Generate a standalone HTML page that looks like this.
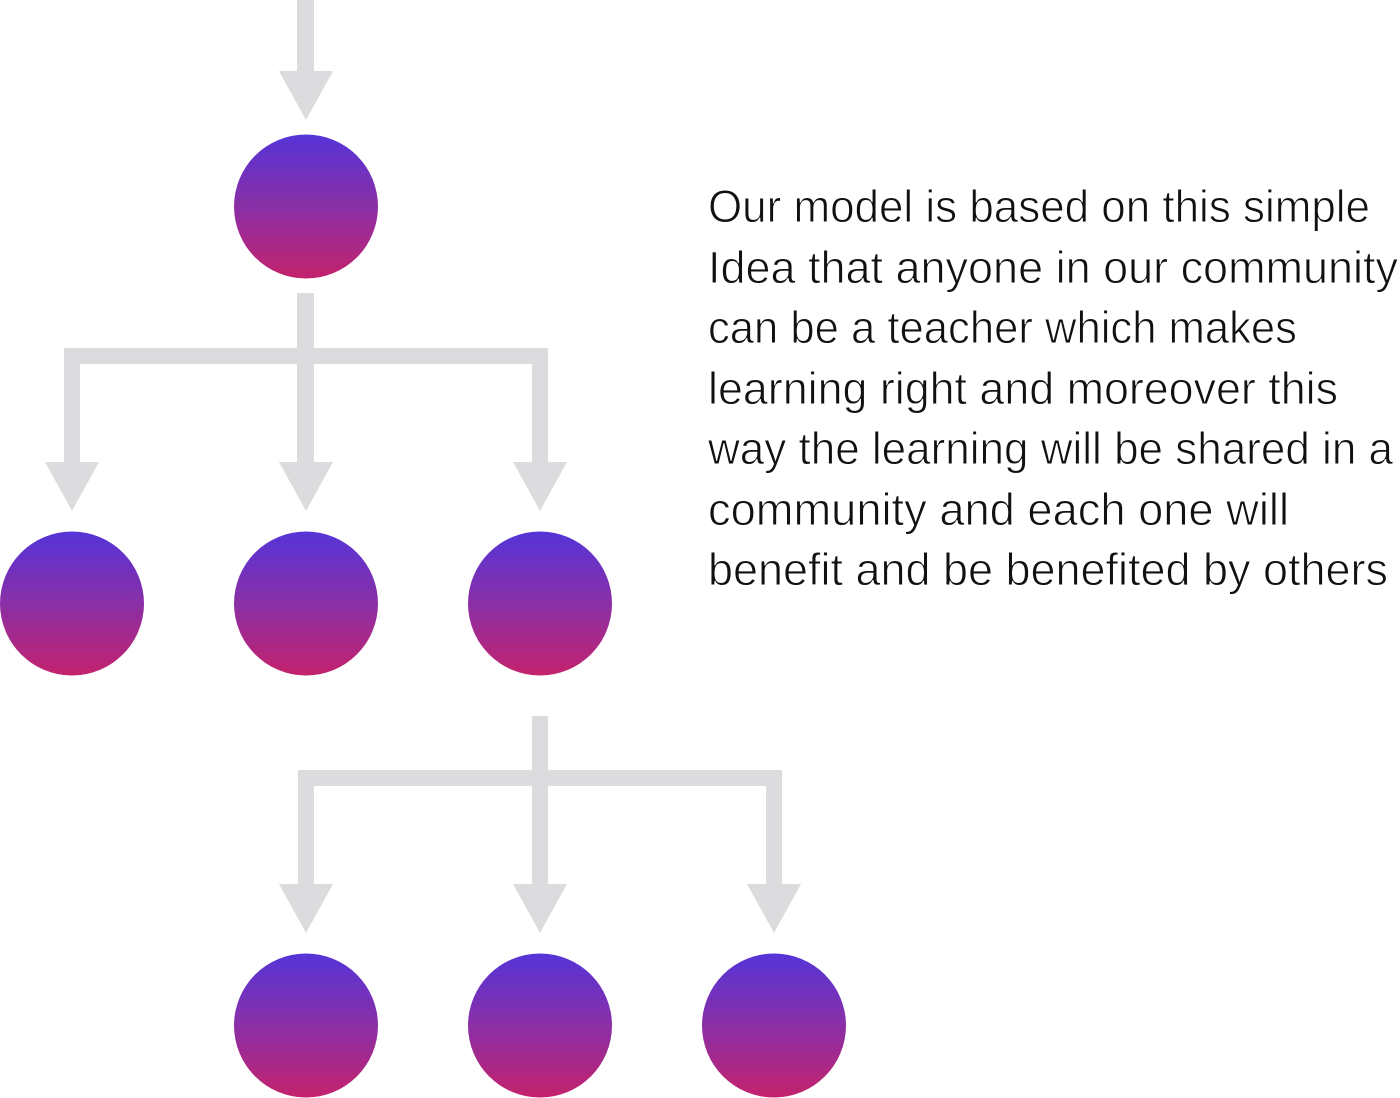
<!DOCTYPE html>
<html><head><meta charset="utf-8"><style>html,body{margin:0;padding:0;background:#fff}svg{display:block}</style></head>
<body>
<svg width="1400" height="1098" viewBox="0 0 1400 1098" xmlns="http://www.w3.org/2000/svg">
<defs>
<linearGradient id="g" x1="0" y1="0" x2="0" y2="1">
<stop offset="0" stop-color="#5534d8"/>
<stop offset="0.5" stop-color="#8a2fa6"/>
<stop offset="1" stop-color="#c3226c"/>
</linearGradient>
</defs>
<g fill="#dcdcde">
<rect x="297" y="0" width="17" height="72"/>
<polygon points="279,71 333,71 306,120"/>
<rect x="297" y="293" width="17" height="170"/>
<rect x="64" y="348" width="484" height="16"/>
<rect x="64" y="348" width="16" height="115"/>
<rect x="532" y="348" width="16" height="115"/>
<polygon points="45,462 99,462 72,511"/>
<polygon points="279,462 333,462 306,511"/>
<polygon points="513,462 567,462 540,511"/>
<rect x="532" y="716" width="16" height="170"/>
<rect x="298" y="770" width="484" height="16"/>
<rect x="298" y="770" width="16" height="115"/>
<rect x="766" y="770" width="16" height="115"/>
<polygon points="279,884 333,884 306,933"/>
<polygon points="513,884 567,884 540,933"/>
<polygon points="747,884 801,884 774,933"/>
</g>
<g fill="url(#g)">
<circle cx="306" cy="206.5" r="72"/>
<circle cx="72" cy="603.5" r="72"/>
<circle cx="306" cy="603.5" r="72"/>
<circle cx="540" cy="603.5" r="72"/>
<circle cx="306" cy="1025.5" r="72"/>
<circle cx="540" cy="1025.5" r="72"/>
<circle cx="774" cy="1025.5" r="72"/>
</g>
<g font-family="Liberation Sans, sans-serif" font-size="45" fill="#111" stroke="#fff" stroke-width="0.9">
<text x="708" y="222" textLength="662" lengthAdjust="spacingAndGlyphs">Our model is based on this simple</text>
<text x="708" y="283" textLength="690" lengthAdjust="spacingAndGlyphs">Idea that anyone in our community</text>
<text x="708" y="343" textLength="589" lengthAdjust="spacingAndGlyphs">can be a teacher which makes</text>
<text x="708" y="404" textLength="630" lengthAdjust="spacingAndGlyphs">learning right and moreover this</text>
<text x="708" y="464" textLength="685" lengthAdjust="spacingAndGlyphs">way the learning will be shared in a</text>
<text x="708" y="525" textLength="581" lengthAdjust="spacingAndGlyphs">community and each one will</text>
<text x="708" y="585" textLength="680" lengthAdjust="spacingAndGlyphs">benefit and be benefited by others</text>
</g>
</svg>
</body></html>
